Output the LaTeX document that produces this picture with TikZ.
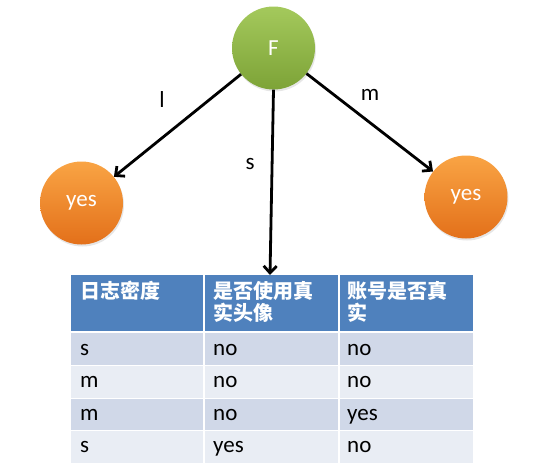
\documentclass[tikz,border=0pt]{standalone}
\usepackage{fontspec}
\setmainfont{Carlito}
\newfontfamily\cjk{Noto Sans CJK SC}
\usetikzlibrary{arrows.meta,shadows}
\definecolor{hdrblue}{HTML}{4F81BD}
\definecolor{rowdark}{HTML}{D0D8E8}
\definecolor{rowlight}{HTML}{E9EDF4}
\definecolor{gtop}{HTML}{A4C95C}
\definecolor{gbot}{HTML}{7DA337}
\definecolor{otop}{HTML}{F9A444}
\definecolor{obot}{HTML}{E3701A}
\begin{document}
\begin{tikzpicture}[x=1pt,y=-1pt,
  ball/.style={circle,minimum size=83pt,inner sep=0pt,text=white,
    font=\fontsize{23}{23}\selectfont,
    drop shadow={opacity=0.2,shadow xshift=1pt,shadow yshift=-2pt}},
  greenball/.style={ball,top color=gtop,bottom color=gbot},
  orangeball/.style={ball,top color=otop,bottom color=obot},
  link/.style={-{Straight Barb[length=7pt,width=13pt,line width=2.8pt]},line width=2.8pt,black},
  lab/.style={font=\fontsize{23}{23}\selectfont,inner sep=0pt},
  hdr/.style={anchor=north west,align=left,text=white,inner sep=0pt,
    font=\cjk\bfseries\fontsize{20}{22.5}\selectfont},
  cell/.style={anchor=base west,inner sep=0pt,font=\fontsize{23}{23}\selectfont}]
\useasboundingbox (0,0) rectangle (544,474);
% table background
\fill[hdrblue] (71,275) rectangle (473,331);
\fill[rowdark] (71,333) rectangle (473,365);
\fill[rowlight] (71,366) rectangle (473,398);
\fill[rowdark] (71,399) rectangle (473,430);
\fill[rowlight] (71,431) rectangle (473,463);
\draw[white,line width=1.5pt] (204,275) -- (204,463);
\draw[white,line width=1.5pt] (339,275) -- (339,463);
% header
\node[hdr] (h1) at (80,281) {日志密度};
\node[hdr] (h2) at (213,281) {是否使用真\\实头像};
\node[hdr] (h3) at (347,281) {账号是否真\\实};
% rows
\node[cell] (r1a) at (80,355) {s};
\node[cell] (r1b) at (213,355) {no};
\node[cell] (r1c) at (347,355) {no};
\node[cell] (r2a) at (80,387.5) {m};
\node[cell] (r2b) at (213,387.5) {no};
\node[cell] (r2c) at (347,387.5) {no};
\node[cell] (r3a) at (80,420) {m};
\node[cell] (r3b) at (213,420) {no};
\node[cell] (r3c) at (347,420) {yes};
\node[cell] (r4a) at (80,452.5) {s};
\node[cell] (r4b) at (213,452.5) {yes};
\node[cell] (r4c) at (347,452.5) {no};
% tree
\node[greenball] (F) at (273.5,48) {F};
\node[orangeball] (L) at (81.5,203) {yes};
\node[orangeball] (R) at (466,197) {yes};
\coordinate (T) at (270,275);
\draw[link] (F) -- (L);
\draw[link] (F) -- (R);
\draw[link] (F.south) -- (T);
\node[lab] (ll) at (162,100) {l};
\node[lab] (ls) at (250,164) {s};
\node[lab] (lm) at (370,95) {m};
\end{tikzpicture}
\end{document}
